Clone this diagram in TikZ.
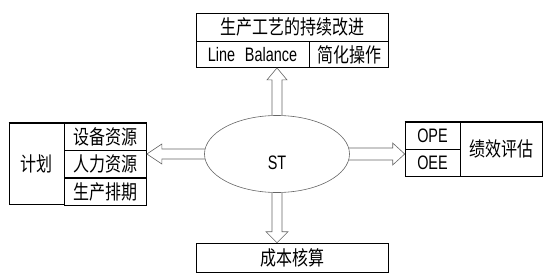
\documentclass[tikz,border=0pt]{standalone}
\usepackage{fontspec}
\setmainfont{Liberation Sans}[FakeStretch=0.74]
\newfontfamily\cjk{Noto Sans CJK SC}[FakeStretch=0.8]
\usetikzlibrary{calc,shapes.geometric}

\tikzset{
  cell/.style={draw, line width=0.6pt, inner sep=0pt, font=\fontsize{19.5}{21}\selectfont},
  zh/.style={cell, font=\cjk\fontsize{20}{22}\selectfont},
  hollow/.style={draw=gray!80!black, line width=0.6pt},
}

\begin{document}
\begin{tikzpicture}[x=1pt, y=-1pt]
  \useasboundingbox (0,0) rectangle (550,279);

  % Draw centre ellipse
  \node[ellipse, draw=gray!80!black, line width=0.6pt, minimum width=145, minimum height=77,
        inner sep=0pt, text height=30pt, text depth=0pt, font=\fontsize{19.5}{21}\selectfont] (st) at (277,154) {ST};

  % Draw top box
  \node[zh, minimum width=192, minimum height=28] (ttl) at (292,27) {生产工艺的持续改进};
  \node[cell, minimum width=113, minimum height=26, anchor=north west] (lb) at (ttl.south west) {Line\enspace Balance};
  \node[zh, minimum width=79, minimum height=26, anchor=north west] (jh) at (lb.north east) {简化操作};

  % Draw plan box
  \node[zh, minimum width=55, minimum height=81] (plan) at (36.5,163.5) {计划};
  \node[zh, minimum width=82, minimum height=27, anchor=north west] (sb) at (plan.north east) {设备资源};
  \node[zh, minimum width=82, minimum height=27, anchor=north west] (rl) at (sb.south west) {人力资源};
  \node[zh, minimum width=82, minimum height=27, anchor=north west] (pc) at (rl.south west) {生产排期};
  \draw[line width=1.6pt] (plan.north west) -- (sb.north east);

  % Draw evaluation box
  \node[cell, minimum width=55, minimum height=27] (ope) at (432.5,135.5) {OPE};
  \node[cell, minimum width=55, minimum height=27, anchor=north west] (oee) at (ope.south west) {OEE};
  \node[zh, minimum width=82, minimum height=54, anchor=north west] (jx) at (ope.north east) {绩效评估};
  \draw[line width=1.6pt] (ope.north west) -- (jx.north east);

  % Draw bottom box
  \node[zh, minimum width=192, minimum height=29] (cb) at (292,257.5) {成本核算};

  % Arrow tips
  \coordinate (tipU) at (st.north |- lb.south);
  \coordinate (tipD) at (st.south |- cb.north);
  \coordinate (tipL) at (sb.east |- st.west);
  \coordinate (tipR) at (ope.west |- st.east);

  % Draw hollow arrows
  \draw[hollow] ($(st.north)+(-5,0)$) -- ($(tipU)+(-5,12)$) -- ($(tipU)+(-10,12)$) -- (tipU)
                -- ($(tipU)+(10,12)$) -- ($(tipU)+(5,12)$) -- ($(st.north)+(5,0)$);
  \draw[hollow] ($(st.south)+(-5,0)$) -- ($(tipD)+(-5,-11)$) -- ($(tipD)+(-11,-11)$) -- (tipD)
                -- ($(tipD)+(11,-11)$) -- ($(tipD)+(5,-11)$) -- ($(st.south)+(5,0)$);
  \draw[hollow] ($(st.west)+(0.6,-5)$) -- ($(tipL)+(15,-5)$) -- ($(tipL)+(15,-10)$) -- (tipL)
                -- ($(tipL)+(15,10)$) -- ($(tipL)+(15,5)$) -- ($(st.west)+(0.6,5)$);
  \draw[hollow] ($(st.east)+(-0.6,-6)$) -- ($(tipR)+(-12,-6)$) -- ($(tipR)+(-12,-11)$) -- (tipR)
                -- ($(tipR)+(-12,11)$) -- ($(tipR)+(-12,6)$) -- ($(st.east)+(-0.6,6)$);
\end{tikzpicture}
\end{document}
